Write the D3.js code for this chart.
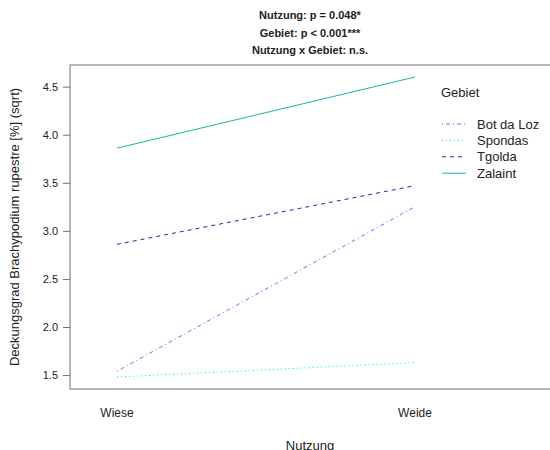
<!DOCTYPE html>
<html>
<head>
<meta charset="utf-8">
<script src="https://cdn.jsdelivr.net/npm/d3@7"></script>
<style>
  body { margin: 0; background: #fff; }
  text { font-family: "Liberation Sans", Arial, sans-serif; fill: #222; }
</style>
</head>
<body>
<div id="chart"></div>
<script>
// data
var levels = ["Wiese", "Weide"];
var groups = ["Bot da Loz", "Spondas", "Tgolda", "Zalaint"];
var botDaLoz = [1.54, 3.25];
var spondas = [1.48, 1.63];
var tgolda = [2.86, 3.47];
var zalaint = [3.86, 4.60];
var yTicks = [1.5, 2.0, 2.5, 3.0, 3.5, 4.0, 4.5];
var titleLines = ["Nutzung: p = 0.048*", "Gebiet: p < 0.001***", "Nutzung x Gebiet: n.s."];

var series = [botDaLoz, spondas, tgolda, zalaint];
var colors = ["#b050f0", "#00e0e8", "#2a2aa0", "#20b2aa"];
var dashes = ["1,3,4,3", "1,3", "4,4", null];

var w = 550, h = 450;
var pLeft = 70, pRight = 560, pTop = 65, pBottom = 389;

var svg = d3.select("#chart").append("svg")
    .attr("width", w)
    .attr("height", h);

// R style 4% range extension
var all = d3.merge(series);
var ext = d3.extent(all);
var pad = (ext[1] - ext[0]) * 0.04;
var y = d3.scaleLinear()
    .domain([ext[0] - pad, ext[1] + pad])
    .range([pBottom, pTop]);

var x = d3.scalePoint()
    .domain(levels)
    .range([117, 415]);

// box (right side runs off the page)
svg.append("rect")
    .attr("x", pLeft)
    .attr("y", pTop)
    .attr("width", pRight - pLeft)
    .attr("height", pBottom - pTop)
    .attr("fill", "none")
    .attr("stroke", "#6e6e6e")
    .attr("stroke-width", 1);

// y axis
var yAxis = d3.axisLeft(y)
    .tickValues(yTicks)
    .tickFormat(d3.format(".1f"))
    .tickSize(7)
    .tickPadding(5);
var gy = svg.append("g")
    .attr("transform", "translate(" + pLeft + ",0)")
    .call(yAxis);
gy.select(".domain").remove();
gy.selectAll("line").attr("stroke", "#6e6e6e");
gy.selectAll("text")
    .attr("font-size", 11)
    .attr("font-family", "Liberation Sans, Arial, sans-serif")
    .attr("fill", "#333");

// x labels (no ticks)
svg.selectAll("text.xlab")
    .data(levels)
    .enter()
    .append("text")
    .attr("class", "xlab")
    .attr("x", d => x(d))
    .attr("y", 417)
    .attr("text-anchor", "middle")
    .attr("font-size", 12)
    .text(d => d);

// lines
var line = d3.line()
    .x((d, i) => x(levels[i]))
    .y(d => y(d));

svg.selectAll("path.series")
    .data(series)
    .enter()
    .append("path")
    .attr("class", "series")
    .attr("d", line)
    .attr("fill", "none")
    .attr("stroke", (d, i) => colors[i])
    .attr("stroke-width", 1)
    .attr("stroke-dasharray", (d, i) => dashes[i]);

// legend
var lg = svg.append("g");
lg.append("text")
    .attr("x", 441)
    .attr("y", 97)
    .attr("font-size", 13)
    .text("Gebiet");
var items = lg.selectAll("g.item")
    .data(groups)
    .enter()
    .append("g")
    .attr("class", "item")
    .attr("transform", (d, i) => "translate(0," + (124 + i * 16.4) + ")");
items.append("line")
    .attr("x1", 442)
    .attr("x2", 466)
    .attr("stroke", (d, i) => colors[i])
    .attr("stroke-dasharray", (d, i) => dashes[i]);
items.append("text")
    .attr("x", 477)
    .attr("y", 4.5)
    .attr("font-size", 13)
    .text(d => d);

// title
svg.selectAll("text.title")
    .data(titleLines)
    .enter()
    .append("text")
    .attr("class", "title")
    .attr("x", 310)
    .attr("y", (d, i) => 19 + i * 17.5)
    .attr("text-anchor", "middle")
    .attr("font-size", 11)
    .attr("font-weight", "bold")
    .attr("fill", "#111")
    .text(d => d);

// axis titles
svg.append("text")
    .attr("transform", "translate(19," + ((pTop + pBottom) / 2) + ") rotate(-90)")
    .attr("text-anchor", "middle")
    .attr("font-size", 13)
    .text("Deckungsgrad Brachypodium rupestre [%] (sqrt)");

svg.append("text")
    .attr("x", 310)
    .attr("y", 450)
    .attr("text-anchor", "middle")
    .attr("font-size", 13)
    .text("Nutzung");
</script>
</body>
</html>
